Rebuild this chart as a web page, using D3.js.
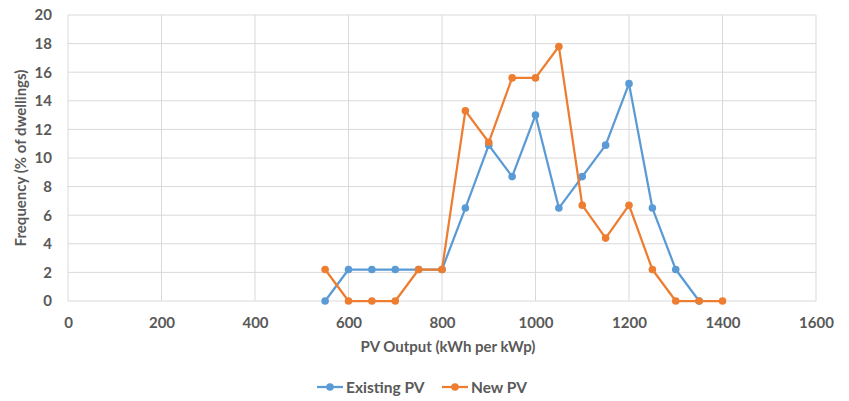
<!DOCTYPE html>
<html>
<head>
<meta charset="utf-8">
<script src="https://cdn.jsdelivr.net/npm/d3@7"></script>
<style>
  body { margin: 0; background: #fff; }
  svg text { font-family: Lato, "Open Sans", sans-serif; fill: #595959; font-weight: bold; }
</style>
</head>
<body>
<div id="chart"></div>
<script>
// PV output bins (kWh per kWp)
const existingX = [550, 600, 650, 700, 750, 800, 850, 900, 950, 1000, 1050, 1100, 1150, 1200, 1250, 1300, 1350];
const existingY = [0, 2.2, 2.2, 2.2, 2.2, 2.2, 6.5, 10.9, 8.7, 13.0, 6.5, 8.7, 10.9, 15.2, 6.5, 2.2, 0];
const newX = [550, 600, 650, 700, 750, 800, 850, 900, 950, 1000, 1050, 1100, 1150, 1200, 1250, 1300, 1350, 1400];
const newY = [2.2, 0, 0, 0, 2.2, 2.2, 13.3, 11.1, 15.6, 15.6, 17.8, 6.7, 4.4, 6.7, 2.2, 0, 0, 0];
const xTicks = [0, 200, 400, 600, 800, 1000, 1200, 1400, 1600];
const yTicks = [0, 2, 4, 6, 8, 10, 12, 14, 16, 18, 20];

const width = 849, height = 401;
const margin = { top: 15, right: 33, bottom: 100, left: 68 };

const series = [
  { name: 'Existing PV', color: '#5B9BD5', points: existingX.map((x, i) => ({ x, y: existingY[i] })) },
  { name: 'New PV', color: '#ED7D31', points: newX.map((x, i) => ({ x, y: newY[i] })) }
];

const svg = d3.select('#chart').append('svg')
  .attr('width', width)
  .attr('height', height);

const x = d3.scaleLinear().domain([0, 1600]).range([margin.left, width - margin.right]);
const y = d3.scaleLinear().domain([0, 20]).range([height - margin.bottom, margin.top]);

// gridlines
svg.append('g')
  .selectAll('line.h')
  .data(yTicks)
  .enter().append('line')
  .attr('x1', x(0)).attr('x2', x(1600))
  .attr('y1', d => y(d)).attr('y2', d => y(d))
  .attr('stroke', '#d9d9d9').attr('stroke-width', 1);

svg.append('g')
  .selectAll('line.v')
  .data(xTicks)
  .enter().append('line')
  .attr('x1', d => x(d)).attr('x2', d => x(d))
  .attr('y1', y(0)).attr('y2', y(20))
  .attr('stroke', '#d9d9d9').attr('stroke-width', 1);

// axes labels
const xAxis = svg.append('g')
  .attr('transform', `translate(0,${y(0)})`)
  .call(d3.axisBottom(x).tickValues(xTicks).tickFormat(d3.format('d')).tickSize(0).tickPadding(16));
xAxis.select('.domain').remove();
xAxis.selectAll('text').style('font-size', '15px');

const yAxis = svg.append('g')
  .attr('transform', `translate(${x(0)},0)`)
  .call(d3.axisLeft(y).tickValues(yTicks).tickSize(0).tickPadding(16));
yAxis.select('.domain').remove();
yAxis.selectAll('text').style('font-size', '15px');

svg.append('text')
  .attr('x', x(800) + 6)
  .attr('y', 352)
  .attr('text-anchor', 'middle')
  .style('font-size', '15px')
  .text('PV Output (kWh per kWp)');

svg.append('text')
  .attr('transform', `translate(26,${y(10)}) rotate(-90)`)
  .attr('text-anchor', 'middle')
  .style('font-size', '15px')
  .text('Frequency (% of dwellings)');

// lines and markers
const line = d3.line().x(d => x(d.x)).y(d => y(d.y));

series.forEach(s => {
  svg.append('path')
    .datum(s.points)
    .attr('fill', 'none')
    .attr('stroke', s.color)
    .attr('stroke-width', 2.25)
    .attr('stroke-linejoin', 'round')
    .attr('d', line);
  svg.append('g')
    .selectAll('circle')
    .data(s.points)
    .enter().append('circle')
    .attr('cx', d => x(d.x))
    .attr('cy', d => y(d.y))
    .attr('r', 3.8)
    .attr('fill', s.color);
});

// legend
const legendPos = [317, 442];
series.forEach((s, i) => {
  const g = svg.append('g').attr('transform', `translate(${legendPos[i]},387)`);
  g.append('line').attr('x1', 0).attr('x2', 26).attr('y1', 0).attr('y2', 0)
    .attr('stroke', s.color).attr('stroke-width', 2.25);
  g.append('circle').attr('cx', 13).attr('cy', 0).attr('r', 3.8).attr('fill', s.color);
  g.append('text').attr('x', 29).attr('y', 5.5).style('font-size', '15.5px').text(s.name);
});
</script>
</body>
</html>
